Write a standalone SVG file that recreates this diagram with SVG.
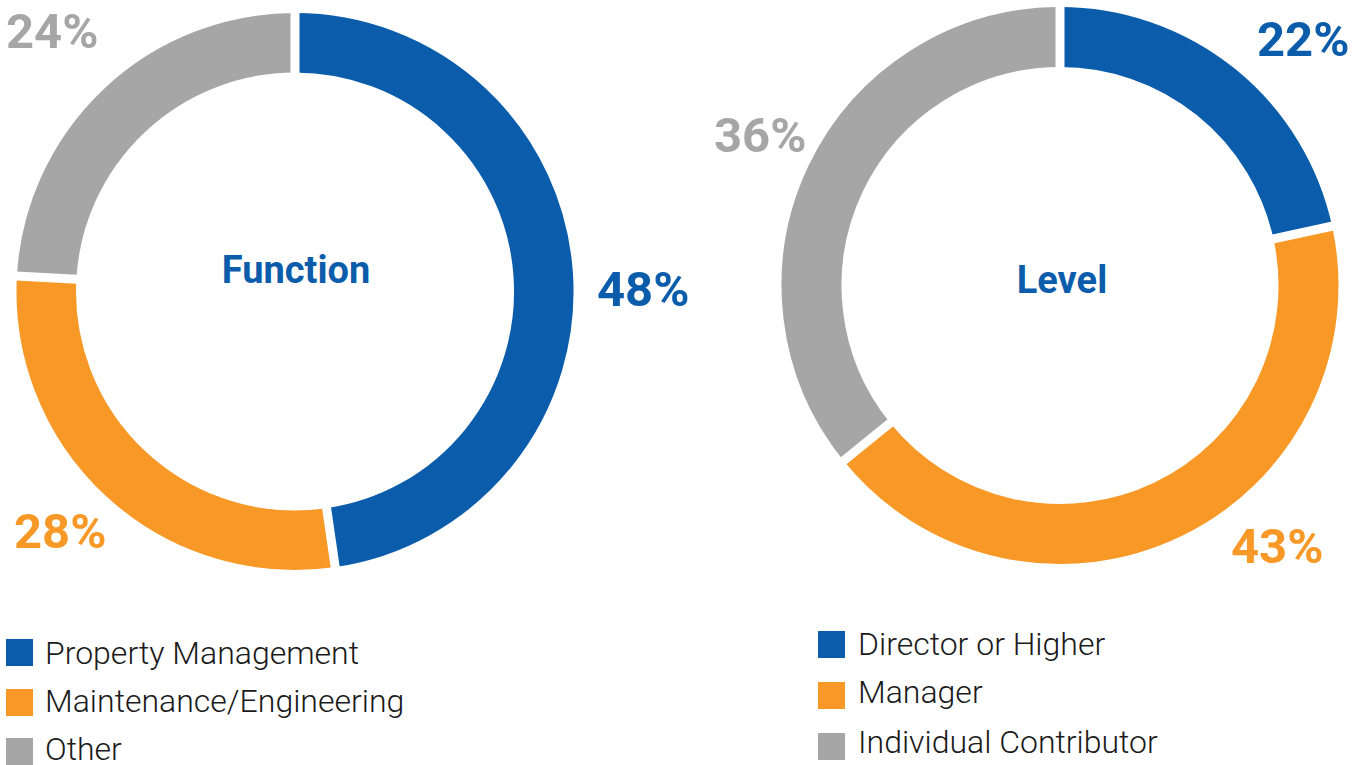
<svg xmlns="http://www.w3.org/2000/svg" width="1362" height="765" viewBox="0 0 1362 765">
<style>
.seg{fill:none}
.b{stroke:#0B5DAB}
.o{stroke:#F89826}
.g{stroke:#A6A6A6}
.sep{stroke:#fff;stroke-width:9}
.pct{font-family:Roboto,"Liberation Sans",sans-serif;font-weight:700;font-size:49px}
.title{font-family:Roboto,"Liberation Sans",sans-serif;font-weight:700;font-size:38px;fill:#0B5DAB;text-anchor:middle}
.leg{font-family:Roboto,"Liberation Sans",sans-serif;font-weight:300;font-size:32px;fill:#1a1a1a}
.fb{fill:#0B5DAB}
.fo{fill:#F89826}
.fg{fill:#A6A6A6}
</style>
<rect width="1362" height="765" fill="#fff"/>
<g id="function-chart">
  <g stroke-width="59.5">
    <path class="seg b" d="M295 42.75 A248.75 248.75 0 0 1 330.91 537.65"/>
    <path class="seg o" d="M330.91 537.65 A248.75 248.75 0 0 1 46.64 277.61"/>
    <path class="seg g" d="M46.64 277.61 A248.75 248.75 0 0 1 295 42.75"/>
  </g>
  <line class="sep" x1="295" y1="77.5" x2="295" y2="5"/>
  <line class="sep" x1="325.89" y1="503.26" x2="336.00" y2="572.53"/>
  <line class="sep" x1="81.33" y1="279.55" x2="11.44" y2="275.65"/>
  <text class="title" x="296" y="283">Function</text>
  <text class="pct fb" x="597" y="306">48%</text>
  <text class="pct fo" x="14" y="548">28%</text>
  <text class="pct fg" x="6" y="48">24%</text>
</g>
<g id="level-chart">
  <g stroke-width="60">
    <path class="seg b" d="M1060 37 A248.5 248.5 0 0 1 1302.80 232.56"/>
    <path class="seg o" d="M1302.80 232.56 A248.5 248.5 0 0 1 866.88 441.89"/>
    <path class="seg g" d="M866.88 441.89 A248.5 248.5 0 0 1 1060 37"/>
  </g>
  <line class="sep" x1="1060" y1="72.5" x2="1060" y2="1"/>
  <line class="sep" x1="1268.11" y1="240.12" x2="1337.48" y2="225.00"/>
  <line class="sep" x1="894.47" y1="419.55" x2="839.29" y2="464.23"/>
  <text class="title" x="1062" y="293">Level</text>
  <text class="pct fb" x="1257" y="56">22%</text>
  <text class="pct fo" x="1231" y="563">43%</text>
  <text class="pct fg" x="714" y="152">36%</text>
</g>
<g id="function-legend">
  <rect class="fb" x="6" y="639" width="27" height="27"/>
  <text class="leg" x="45" y="664">Property Management</text>
  <rect class="fo" x="6" y="689" width="27" height="27"/>
  <text class="leg" x="45" y="712">Maintenance/Engineering</text>
  <rect class="fg" x="6" y="738" width="27" height="27"/>
  <text class="leg" x="45" y="760">Other</text>
</g>
<g id="level-legend">
  <rect class="fb" x="818" y="631" width="27" height="27"/>
  <text class="leg" x="858" y="655">Director or Higher</text>
  <rect class="fo" x="818" y="682" width="27" height="27"/>
  <text class="leg" x="858" y="703">Manager</text>
  <rect class="fg" x="818" y="733" width="27" height="27"/>
  <text class="leg" x="858" y="753">Individual Contributor</text>
</g>
</svg>
